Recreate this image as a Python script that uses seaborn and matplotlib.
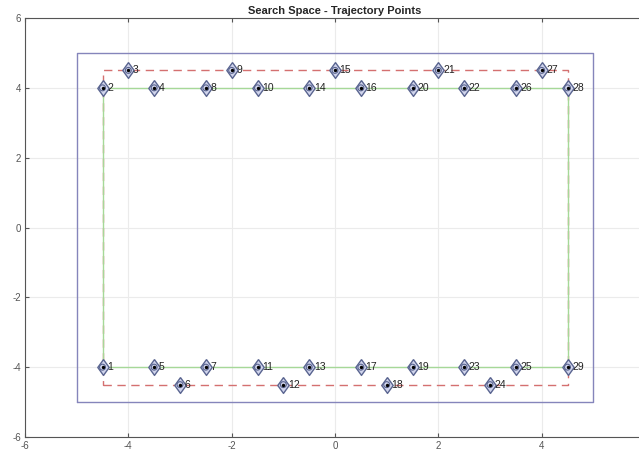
import matplotlib
matplotlib.use("Agg")
import matplotlib.pyplot as plt
import seaborn as sns
import pandas as pd

point_ids = list(range(1, 30))
point_x = [-4.5, -4.5, -4.0, -3.5, -3.5, -3.0, -2.5, -2.5, -2.0, -1.5,
           -1.5, -1.0, -0.5, -0.5, 0.0, 0.5, 0.5, 1.0, 1.5, 1.5,
           2.0, 2.5, 2.5, 3.0, 3.5, 3.5, 4.0, 4.5, 4.5]
point_y = [-4, 4, 4.5, 4, -4, -4.5, -4, 4, 4.5, 4,
           -4, -4.5, -4, 4, 4.5, 4, -4, -4.5, -4, 4,
           4.5, 4, -4, -4.5, -4, 4, 4.5, 4, -4]

outer_x = [-5, 5, 5, -5, -5]
outer_y = [-5, -5, 5, 5, -5]
dash_x = [-4.5, 4.5, 4.5, -4.5, -4.5]
dash_y = [-4.5, -4.5, 4.5, 4.5, -4.5]
path_x = [-4.5, -4.5, 4.5, 4.5, -4.5]
path_y = [-4, 4, 4, -4, -4]

ticks = [-6, -4, -2, 0, 2, 4, 6]
xtick_labels = ["-6", "-4", "-2", "0", "2", "4", ""]
ytick_labels = ["-6", "-4", "-2", "0", "2", "4", "6"]

sns.set_style("whitegrid")
plt.rcParams['font.family'] = ['Liberation Sans', 'DejaVu Sans']
plt.rcParams['axes.unicode_minus'] = False

fig = plt.figure(figsize=(6.39, 4.58), dpi=100)
ax = fig.add_axes([25/639, 21/458, 620/639, 419/458])

sns.lineplot(x=outer_x, y=outer_y, sort=False, ax=ax, color='#8585bb', linewidth=1.0, estimator=None)
sns.lineplot(x=dash_x, y=dash_y, sort=False, ax=ax, color='#d47070', linewidth=1.0, estimator=None,
             linestyle=(0, (6, 4)))
sns.lineplot(x=path_x, y=path_y, sort=False, ax=ax, color='#a6d898', linewidth=1.0, estimator=None)

diamond = [(0, 1), (0.72, 0), (0, -1), (-0.72, 0), (0, 1)]
df = pd.DataFrame({"x": point_x, "y": point_y, "id": point_ids})
sns.scatterplot(data=df, x="x", y="y", marker=diamond, s=130, color='#d0d4ec',
                edgecolor='#5a6590', linewidth=1.0, ax=ax, zorder=5)
sns.scatterplot(data=df, x="x", y="y", marker="o", s=18, color='none',
                edgecolor='#5a6590', linewidth=0.8, ax=ax, zorder=6)
sns.scatterplot(data=df, x="x", y="y", marker="o", s=6, color='black',
                edgecolor='black', linewidth=0, ax=ax, zorder=7)
for xi, yi, pid in zip(point_x, point_y, point_ids):
    ax.text(xi + 0.09, yi, str(pid), fontsize=7.5, va='center', ha='left', color='#222222', zorder=8)

ax.set_xlim(-6, 6)
ax.set_ylim(-6, 6)
ax.set_xticks(ticks)
ax.set_xticklabels(xtick_labels)
ax.set_yticks(ticks)
ax.set_yticklabels(ytick_labels)
ax.set_xlabel("")
ax.set_ylabel("")
ax.grid(True, color='#ebebeb', linewidth=0.8)
ax.tick_params(direction='in', length=3, labelsize=7, colors='#555555', top=True, right=True,
               bottom=True, left=True, pad=3)
for s in ax.spines.values():
    s.set_color('#555555')
    s.set_linewidth(0.8)
ax.set_title("Search Space - Trajectory Points", fontsize=8, fontweight='bold', pad=3)

fig.savefig("out.png", dpi=100)
